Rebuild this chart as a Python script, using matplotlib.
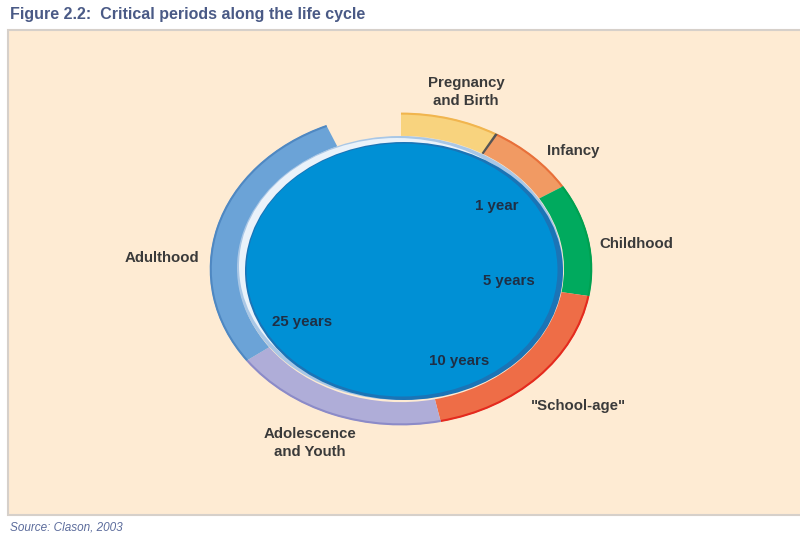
import matplotlib
matplotlib.use('Agg')
import matplotlib.pyplot as plt
from matplotlib.patches import Wedge, Arc, Ellipse, Rectangle
from matplotlib.transforms import Affine2D

plt.rcParams['font.family'] = ['Liberation Sans', 'DejaVu Sans']

# life cycle stages, arc lengths (degrees, clockwise from 12 o'clock)
stages = ['Pregnancy\nand Birth', 'Infancy', 'Childhood', '"School-age"',
          'Adolescence\nand Youth', 'Adulthood']
spans = [30, 28, 42, 68, 66, 103]
fills = ['#F8D37E', '#F19A63', '#00AA5E', '#EE6D47', '#AFADD8', '#6BA3D7']
edges = ['#F1B54E', '#E8703A', '#00A050', '#E42A1E', '#8C8BC8', '#4F88C2']

# label positions (pixels)
label_x = [466, 573, 636, 578, 310, 162]
label_y = [92, 151, 244, 406, 443, 258]

# ages marked inside the circle
ages = ['1 year', '5 years', '10 years', '25 years']
age_x = [497, 509, 459, 302]
age_y = [206, 281, 361, 322]

fig = plt.figure(figsize=(8, 5.38), dpi=100)
ax = fig.add_axes([0, 0, 1, 1])
ax.set_xlim(0, 800)
ax.set_ylim(538, 0)
ax.axis('off')

ax.add_patch(Rectangle((8, 30), 830, 485, facecolor='#FEEBD3',
                       edgecolor='#D6D0CA', linewidth=1.5))

# ring
cx, cy = 401, 269
rx, ry = 191, 156
width = 28
tr = Affine2D().scale(1, ry / rx).translate(cx, cy) + ax.transData

start = 0
for span, fc, ec in zip(spans, fills, edges):
    end = start + span
    ax.add_patch(Wedge((0, 0), rx, start - 90, end - 90, width=width,
                       facecolor=fc, edgecolor='none', transform=tr))
    ax.add_patch(Arc((0, 0), 2 * rx - 1.5, 2 * rx - 1.5, theta1=start - 90,
                     theta2=end - 90, color=ec, linewidth=1.5, transform=tr))
    start = end

# thin divider between pregnancy and infancy
ax.add_patch(Wedge((0, 0), rx, spans[0] - 90.4, spans[0] - 89.6, width=width,
                   facecolor='#555555', edgecolor='none', transform=tr))

# centre disc with bevelled rim
ax.add_patch(Ellipse((400, 268), 326, 264, facecolor='#A9C7E6', edgecolor='none'))
ax.add_patch(Ellipse((397, 266), 316, 256, facecolor='#EAF2FA', edgecolor='none'))
ax.add_patch(Ellipse((404, 271), 318, 258, facecolor='#1B74B6', edgecolor='none'))
ax.add_patch(Ellipse((402, 270), 311, 253, facecolor='#0090D5', edgecolor='none'))

for s, x, y in zip(stages, label_x, label_y):
    ax.text(x, y, s, ha='center', va='center', fontsize=10.8, fontweight='bold',
            color='#3A3A3A', linespacing=1.3)

for s, x, y in zip(ages, age_x, age_y):
    ax.text(x, y, s, ha='center', va='center', fontsize=10.8, fontweight='bold',
            color='#1F2F45')

ax.text(10, 14, 'Figure 2.2:  Critical periods along the life cycle', ha='left',
        va='center', fontsize=11.5, fontweight='bold', color='#4A5A86')
ax.text(10, 528, 'Source: Clason, 2003', ha='left', va='center', fontsize=8.5,
        style='italic', color='#5C6C9C')

fig.savefig('out.png', dpi=100)
